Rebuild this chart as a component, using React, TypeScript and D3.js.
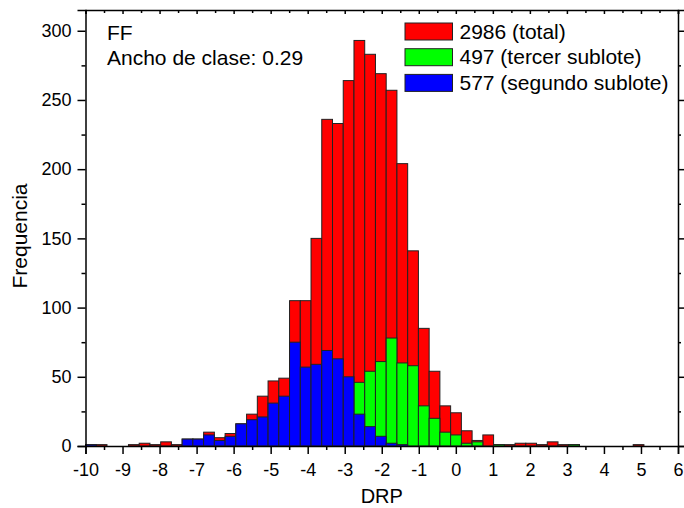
import React, { useEffect, useRef } from "react";
import * as d3 from "d3";

// histogram bins: start at -10, width 0.29
const binStart = -10;
const binWidth = 0.29;

const totalCounts = [
  1, 1, 0, 0, 1, 2, 1, 3, 1, 5, 5, 10, 6, 9, 16, 23, 36, 47, 49, 105, 105, 150,
  236, 233, 264, 293, 283, 269, 257, 204, 141, 85, 54, 29, 24, 11, 4, 8, 1, 1,
  2, 2, 1, 3, 1, 1, 0, 0, 0, 0, 0, 1, 0, 0, 0, 0,
];
const tercerCounts = [
  0, 0, 0, 0, 0, 0, 0, 0, 0, 0, 0, 0, 0, 0, 0, 0, 0, 0, 0, 0, 0, 0, 0, 0, 0,
  46, 54, 61, 78, 60, 58, 29, 20, 10, 8, 2, 3, 0, 1, 0, 0, 0, 0, 0, 0, 1, 0, 0,
  0, 0, 0, 0, 0, 0, 0, 0,
];
const segundoCounts = [
  1, 0, 0, 0, 0, 0, 0, 0, 0, 5, 5, 8, 4, 7, 16, 19, 21, 31, 36, 75, 57, 59, 69,
  63, 50, 23, 14, 7, 2, 1, 0, 0, 0, 0, 0, 0, 0, 0, 0, 0, 0, 0, 0, 0, 0, 0, 0, 0,
  0, 0, 0, 0, 0, 0, 0, 0,
];

const seriesNames = ["2986 (total)", "497 (tercer sublote)", "577 (segundo sublote)"];
const seriesColors = ["#ff0000", "#00ff00", "#0000ff"];

const xTicks = d3.range(-10, 7, 1);
const yTicks = [0, 50, 100, 150, 200, 250, 300];

const App: React.FC = () => {
  const svgRef = useRef<SVGSVGElement>(null);

  useEffect(() => {
    const svg = d3.select(svgRef.current);
    svg.selectAll("*").remove();
    const width = 684;
    const height = 508;
    const margin = { top: 10, right: 6, bottom: 62, left: 85.5 };
    const font = "'Liberation Sans', Arial, sans-serif";

    const x = d3
      .scaleLinear()
      .domain([-10, 6])
      .range([margin.left, width - margin.right]);
    const y = d3
      .scaleLinear()
      .domain([0, 315])
      .range([height - margin.bottom, margin.top]);

    // bars, total first then the two sublots on top
    const allSeries = [totalCounts, tercerCounts, segundoCounts];
    allSeries.forEach((counts, si) => {
      const data = counts
        .map((c, i) => ({ x0: binStart + i * binWidth, c }))
        .filter((d) => d.c > 0);
      svg
        .append("g")
        .selectAll("rect")
        .data(data)
        .enter()
        .append("rect")
        .attr("x", (d) => x(d.x0))
        .attr("width", (d) => x(d.x0 + binWidth) - x(d.x0))
        .attr("y", (d) => y(d.c))
        .attr("height", (d) => y(0) - y(d.c))
        .attr("fill", seriesColors[si])
        .attr("stroke", "#222")
        .attr("stroke-width", 1);
    });

    const minorX = d3.range(-9.5, 6, 1);
    const minorY = d3.range(25, 315, 50);

    // bottom axis (plain hyphen for negatives)
    const gx = svg
      .append("g")
      .attr("transform", `translate(0,${y(0)})`)
      .call(d3.axisBottom(x).tickValues(xTicks).tickSize(8).tickPadding(9).tickFormat((d) => String(d)));
    svg
      .append("g")
      .attr("transform", `translate(0,${y(0)})`)
      .call(d3.axisBottom(x).tickValues(minorX).tickSize(4).tickFormat(() => ""))
      .select(".domain")
      .remove();

    // left axis
    const gy = svg
      .append("g")
      .attr("transform", `translate(${margin.left},0)`)
      .call(d3.axisLeft(y).tickValues(yTicks).tickSize(8).tickPadding(6));
    svg
      .append("g")
      .attr("transform", `translate(${margin.left},0)`)
      .call(d3.axisLeft(y).tickValues(minorY).tickSize(4).tickFormat(() => ""))
      .select(".domain")
      .remove();

    // right axis, ticks only
    svg
      .append("g")
      .attr("transform", `translate(${width - margin.right},0)`)
      .call(d3.axisRight(y).tickValues(yTicks).tickSize(6).tickFormat(() => ""));
    svg
      .append("g")
      .attr("transform", `translate(${width - margin.right},0)`)
      .call(d3.axisRight(y).tickValues(minorY).tickSize(3).tickFormat(() => ""))
      .select(".domain")
      .remove();

    // top axis
    svg
      .append("g")
      .attr("transform", `translate(0,${margin.top})`)
      .call(d3.axisTop(x).tickValues(xTicks).tickSize(-4).tickFormat(() => ""));
    svg
      .append("g")
      .attr("transform", `translate(0,${margin.top})`)
      .call(d3.axisTop(x).tickValues(minorX).tickSize(-3).tickFormat(() => ""))
      .select(".domain")
      .remove();

    svg.selectAll(".domain").attr("stroke", "#000").attr("stroke-width", 1.5);
    svg.selectAll(".tick line").attr("stroke", "#000").attr("stroke-width", 1.5);
    [gx, gy].forEach((g) =>
      g.selectAll("text").style("font-family", font).style("font-size", "18px").attr("fill", "#000")
    );

    // axis titles
    svg
      .append("text")
      .attr("x", x(-2))
      .attr("y", 503)
      .style("text-anchor", "middle")
      .style("font-family", font)
      .style("font-size", "20px")
      .text("DRP");
    svg
      .append("text")
      .attr("transform", "rotate(-90)")
      .attr("x", -236)
      .attr("y", 27)
      .style("text-anchor", "middle")
      .style("font-family", font)
      .style("font-size", "21px")
      .text("Frequencia");

    // annotation
    svg
      .append("text")
      .attr("x", 107)
      .attr("y", 40)
      .style("font-family", font)
      .style("font-size", "21px")
      .text("FF");
    svg
      .append("text")
      .attr("x", 107)
      .attr("y", 65)
      .style("font-family", font)
      .style("font-size", "21px")
      .text("Ancho de clase: 0.29");

    // legend
    const legend = svg.append("g").attr("transform", "translate(405,23)");
    seriesNames.forEach((name, i) => {
      legend
        .append("rect")
        .attr("x", 0)
        .attr("y", i * 25.7)
        .attr("width", 47.5)
        .attr("height", 17)
        .attr("fill", seriesColors[i])
        .attr("stroke", "#222")
        .attr("stroke-width", 1);
      legend
        .append("text")
        .attr("x", 54.5)
        .attr("y", i * 25.7 + 15.5)
        .style("font-family", font)
        .style("font-size", "21px")
        .text(name);
    });
  }, []);

  return (
    <svg
      ref={svgRef}
      width={684}
      height={508}
      style={{ position: "absolute", left: 0, top: 0, background: "#fff" }}
    />
  );
};

export default App;
